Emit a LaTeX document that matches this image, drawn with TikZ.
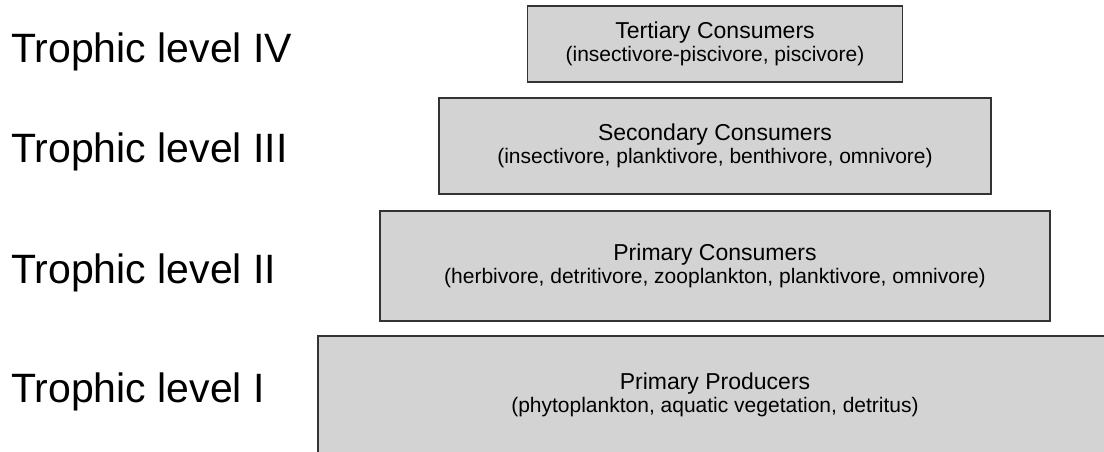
\documentclass[tikz,border=0pt]{standalone}
\usepackage{fontspec}
\setmainfont{Liberation Sans}

\definecolor{boxgray}{RGB}{211,211,211}

\begin{document}
\begin{tikzpicture}[x=1pt,y=-1pt,
  level/.style={rectangle, draw=black!80, line width=1.2pt, fill=boxgray,
    align=center, inner sep=0pt, font=\fontsize{21}{23}\selectfont,
    execute at begin node=\rule{0pt}{24pt}},
  levelname/.style={anchor=base west, inner sep=0pt,
    font=\fontsize{41}{49}\selectfont}]

% ----- Frame -----
\useasboundingbox (0,0) rectangle (1104,451);
\clip (0,0) rectangle (1104,451);

% ----- Parameters -----
\def\cx{715} % common centre of the pyramid

% ----- Pyramid boxes -----
\node[level, minimum width=375pt, minimum height=76pt] (IV) at (\cx,44)
  {{\fontsize{23}{23}\selectfont Tertiary Consumers}\\(insectivore-piscivore, piscivore)};
\node[level, minimum width=552pt, minimum height=96pt] (III) at (\cx,146)
  {{\fontsize{23}{23}\selectfont Secondary Consumers}\\(insectivore, planktivore, benthivore, omnivore)};
\node[level, minimum width=670pt, minimum height=110pt] (II) at (\cx,266)
  {{\fontsize{23}{23}\selectfont Primary Consumers}\\(herbivore, detritivore, zooplankton, planktivore, omnivore)};
\node[level, minimum width=794pt, minimum height=118pt] (I) at (\cx,395)
  {{\fontsize{23}{23}\selectfont Primary Producers}\\(phytoplankton, aquatic vegetation, detritus)};

% ----- Level labels -----
\foreach \y/\r in {62/IV,162/III,283/II,402/I}
  \node[levelname] (L\r) at (11,\y) {Trophic level \r};

\end{tikzpicture}
\end{document}
